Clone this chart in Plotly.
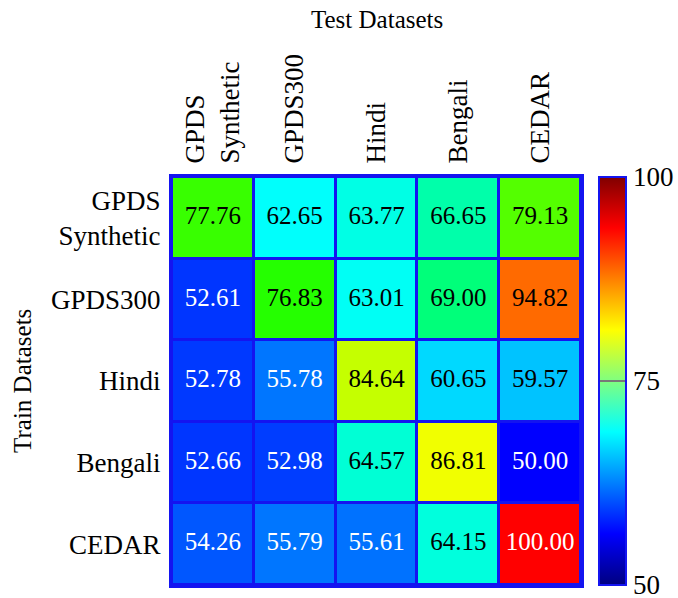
import plotly.graph_objects as go

train_labels = ["GPDS<br>Synthetic", "GPDS300", "Hindi", "Bengali", "CEDAR"]
test_labels = ["GPDS<br>Synthetic", "GPDS300", "Hindi", "Bengali", "CEDAR"]
values = [
    [77.76, 62.65, 63.77, 66.65, 79.13],
    [52.61, 76.83, 63.01, 69.00, 94.82],
    [52.78, 55.78, 84.64, 60.65, 59.57],
    [52.66, 52.98, 64.57, 86.81, 50.00],
    [54.26, 55.79, 55.61, 64.15, 100.00],
]
zmin, zmax = 50, 100
cbar_ticks = [50, 75, 100]

FONT = "Liberation Serif"
BORDER = "rgb(20,20,240)"

cell_scale = [
    [0.0, "rgb(0,0,255)"],
    [0.25, "rgb(0,255,255)"],
    [0.5, "rgb(0,255,0)"],
    [0.75, "rgb(255,255,0)"],
    [1.0, "rgb(255,0,0)"],
]
jet_scale = [
    [0.0, "rgb(0,0,128)"],
    [0.125, "rgb(0,0,255)"],
    [0.375, "rgb(0,255,255)"],
    [0.625, "rgb(255,255,0)"],
    [0.875, "rgb(255,0,0)"],
    [1.0, "rgb(128,0,0)"],
]

fig = go.Figure()
fig.add_trace(go.Heatmap(
    z=values, x=test_labels, y=train_labels,
    zmin=zmin, zmax=zmax, colorscale=cell_scale, showscale=False,
    xgap=3, ygap=3, hoverinfo="skip",
))

xs, ys, ts, cs = [], [], [], []
for i, row in enumerate(values):
    for j, v in enumerate(row):
        xs.append(test_labels[j])
        ys.append(train_labels[i])
        ts.append(f"{v:.2f}")
        cs.append("white" if (v < 58 or v > 97) else "black")
fig.add_trace(go.Scatter(
    x=xs, y=ys, text=ts, mode="text",
    textfont=dict(family=FONT, size=25, color=cs),
    showlegend=False, hoverinfo="skip",
))

fig.add_trace(go.Scatter(
    x=[None], y=[None], mode="markers", showlegend=False,
    marker=dict(
        color=[zmin, zmax], cmin=zmin, cmax=zmax, colorscale=jet_scale,
        showscale=True,
        colorbar=dict(
            xref="paper", x=1.044, xanchor="left", xpad=0, ypad=0,
            yref="paper", y=1.0, yanchor="top", len=1.0, lenmode="fraction",
            thickness=27, outlinecolor=BORDER, outlinewidth=2,
            tickvals=cbar_ticks, ticktext=[str(t) for t in cbar_ticks],
            ticks="inside", ticklen=27, tickcolor="rgb(120,120,120)", tickwidth=1.5,
            ticklabeloverflow="allow",
            tickfont=dict(family=FONT, size=27, color="black"),
        ),
    ),
))

fig.update_layout(
    width=678, height=598,
    margin=dict(l=172, r=97, t=177, b=13, autoexpand=False),
    paper_bgcolor="white", plot_bgcolor=BORDER,
    font=dict(family=FONT, size=27, color="black"),
    showlegend=False,
    xaxis=dict(
        side="top", tickangle=-90, showgrid=False, zeroline=False,
        showline=True, mirror=True, linecolor=BORDER, linewidth=3,
        ticks="", ticklabelstandoff=5, automargin=False,
        tickfont=dict(family=FONT, size=27),
        categoryorder="array", categoryarray=test_labels,
    ),
    yaxis=dict(
        autorange="reversed", showgrid=False, zeroline=False,
        showline=True, mirror=True, linecolor=BORDER, linewidth=3,
        ticks="", ticklabelstandoff=3, automargin=False,
        tickfont=dict(family=FONT, size=27),
        categoryorder="array", categoryarray=train_labels,
    ),
    annotations=[
        dict(text="Test Datasets", xref="paper", yref="paper", x=0.5, y=1.385,
             xanchor="center", yanchor="middle",
             showarrow=False, font=dict(family=FONT, size=25)),
        dict(text="Train Datasets", xref="paper", yref="paper", x=-0.367, y=0.5,
             xanchor="center", yanchor="middle",
             textangle=-90, showarrow=False, font=dict(family=FONT, size=25)),
    ],
)

fig.write_html(
    "out.html",
    config={"displayModeBar": False},
    post_script="document.body.style.margin='0';document.body.style.overflow='hidden';",
)
